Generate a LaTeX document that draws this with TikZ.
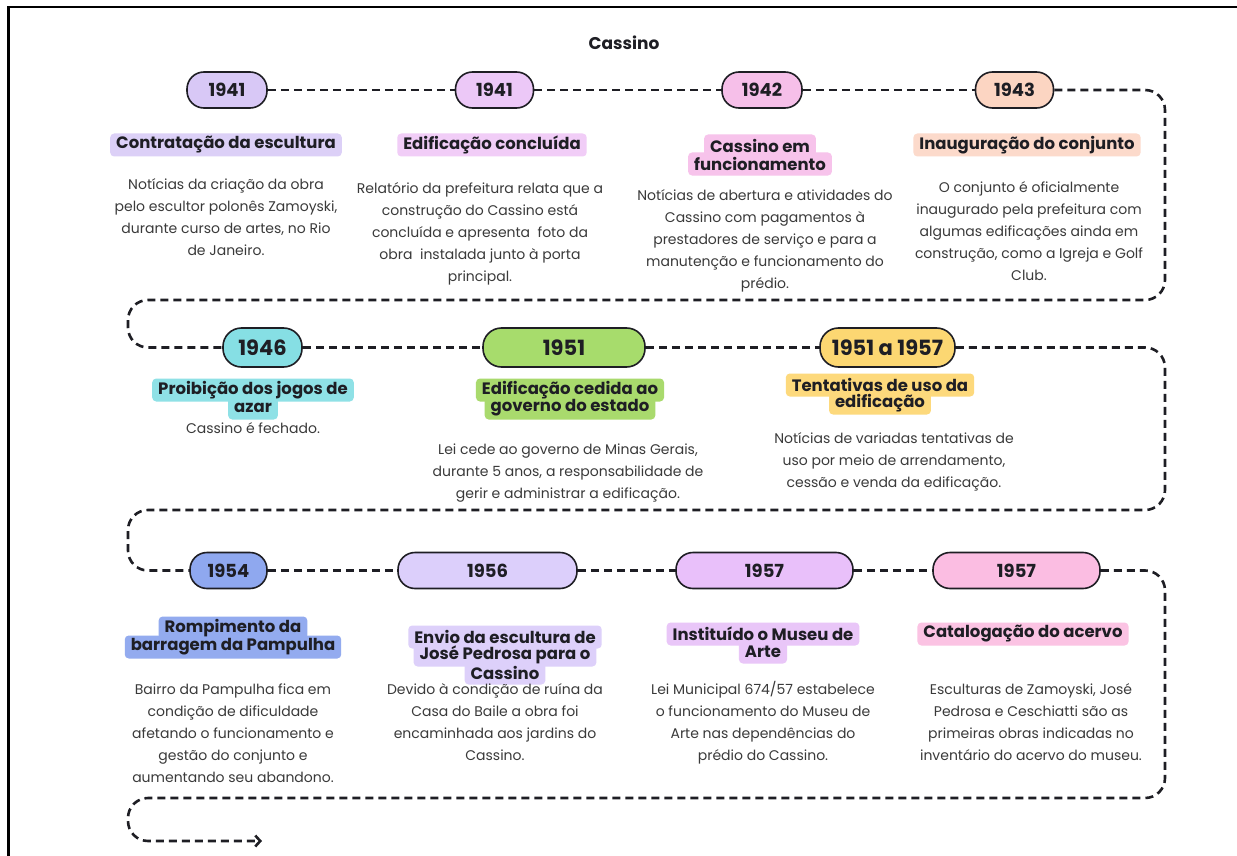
\documentclass[tikz,border=0pt]{standalone}
\usepackage{fontspec}
\setmainfont{Poppins}
\usetikzlibrary{arrows.meta}
\definecolor{pA}{HTML}{D8C8F6}\definecolor{hA}{HTML}{DCD0F7}
\definecolor{pB}{HTML}{ECC8F7}\definecolor{hB}{HTML}{F1CDF7}
\definecolor{pC}{HTML}{F6BFE9}\definecolor{hC}{HTML}{F7C3EB}
\definecolor{pD}{HTML}{FCD5C2}\definecolor{hD}{HTML}{FCDACB}
\definecolor{pE}{HTML}{86DFE4}\definecolor{hE}{HTML}{8FE1E6}
\definecolor{pF}{HTML}{A7DC6C}\definecolor{hF}{HTML}{A9DA6D}
\definecolor{pG}{HTML}{FCD772}\definecolor{hG}{HTML}{FDD97C}
\definecolor{pH}{HTML}{8FA8EF}\definecolor{hH}{HTML}{93ABEF}
\definecolor{pI}{HTML}{DCCFFB}\definecolor{hI}{HTML}{DDD0FA}
\definecolor{pJ}{HTML}{E9C0FA}\definecolor{hJ}{HTML}{E9C6F8}
\definecolor{pK}{HTML}{FBBDE2}\definecolor{hK}{HTML}{FBC3E3}
\definecolor{ink}{HTML}{1E1E24}
\definecolor{bodyc}{HTML}{3A3A3A}
% heading line: background first (invisible text), text drawn later
\newcommand\headbg[4]{\node[head, fill=#2, text opacity=0] (#1) at (#3) {#4};}
\newcommand\headtx[2]{\node[head] (#1t) at (#1.center) {#2};}
\begin{document}
\begin{tikzpicture}[x=1pt,y=-1pt,
  pill/.style={draw=ink, line width=1.6pt, rounded corners=17pt, minimum height=36pt,
    inner sep=0pt, font=\bfseries\fontsize{18}{20}\selectfont, text=ink},
  pillbig/.style={pill, minimum height=39pt, rounded corners=18.5pt,
    font=\bfseries\fontsize{21}{24}\selectfont},
  head/.style={rounded corners=4pt, inner xsep=6pt, inner ysep=0pt, minimum height=23pt,
    font=\bfseries\fontsize{16.5}{18}\selectfont, text=ink},
  body/.style={align=center, font=\fontsize{14}{22}\selectfont, text=bodyc,
    inner sep=0pt, anchor=north, yshift=-9.5pt},
  tl/.style={line width=2.6pt, dash pattern=on 8pt off 5pt, draw=ink, rounded corners=20pt},
]
\useasboundingbox (0,0) rectangle (1237,856);
\fill[white] (0,0) rectangle (1237,856);
\draw[line width=2.5pt] (8.5,856) -- (8.5,7) -- (1237,7);

\node[font=\bfseries\fontsize{17}{20}\selectfont, text=ink] (title) at (624,43) {Cassino};

% ---------- pills
\node[pill, fill=pA, minimum width=80pt] (p1) at (227,90) {1941};
\node[pill, fill=pB, minimum width=78pt] (p2) at (494.5,90) {1941};
\node[pill, fill=pC, minimum width=80pt] (p3) at (762,90) {1942};
\node[pill, fill=pD, minimum width=78pt] (p4) at (1014.5,90) {1943};

\node[pillbig, fill=pE, minimum width=79pt] (p5) at (262.5,347.5) {1946};
\node[pillbig, fill=pF, minimum width=162pt] (p6) at (564,347.5) {1951};
\node[pillbig, fill=pG, minimum width=135pt] (p7) at (887.5,347.5) {1951 a 1957};

\node[pill, fill=pH, minimum width=77pt] (p8) at (228.5,570.5) {1954};
\node[pill, fill=pI, minimum width=179pt] (p9) at (487.5,570.5) {1956};
\node[pill, fill=pJ, minimum width=177pt] (p10) at (764.5,570.5) {1957};
\node[pill, fill=pK, minimum width=167pt] (p11) at (1016.5,570.5) {1957};

\coordinate (endpt) at (262,841);

% ---------- timeline
\draw[tl] (p1) -- (p2);
\draw[tl] (p2) -- (p3);
\draw[tl] (p3) -- (p4);
\draw[tl] (p4.east) -- (1165,90) -- (1165,300) -- (128,300) -- (128,347.5) -- (p5.west);
\draw[tl] (p5) -- (p6);
\draw[tl] (p6) -- (p7);
\draw[tl] (p7.east) -- (1165,347.5) -- (1165,510) -- (128,510) -- (128,570.5) -- (p8.west);
\draw[tl] (p8) -- (p9);
\draw[tl] (p9) -- (p10);
\draw[tl] (p10) -- (p11);
\draw[tl, -{Straight Barb[length=5pt,width=11pt]}] (p11.east) -- (1165,570.5) -- (1165,798) -- (128,798) -- (128,841) -- (endpt);

% ---------- heading backgrounds
\headbg{h1}{hA}{226,145}{Contratação da escultura}
\headbg{h2}{hB}{492,145}{Edificação concluída}
\headbg{h3a}{hC}{760,146}{Cassino em}
\headbg{h3b}{hC}{760,164}{funcionamento}
\headbg{h4}{hD}{1027,145}{Inauguração do conjunto}
\headbg{h5a}{hE}{253,390}{Proibição dos jogos de}
\headbg{h5b}{hE}{253,408}{azar}
\headbg{h6a}{hF}{570,390}{Edificação cedida ao}
\headbg{h6b}{hF}{570,408}{governo do estado}
\headbg{h7a}{hG}{880,385}{Tentativas de uso da}
\headbg{h7b}{hG}{880,403}{edificação}
\headbg{h8a}{hH}{233,628}{Rompimento da}
\headbg{h8b}{hH}{233,647}{barragem da Pampulha}
\headbg{h9a}{hI}{505,637}{Envio da escultura de}
\headbg{h9b}{hI}{505,655}{José Pedrosa para o}
\headbg{h9c}{hI}{505,673}{Cassino}
\headbg{h10a}{hJ}{763,634}{Instituído o Museu de}
\headbg{h10b}{hJ}{763,652}{Arte}
\headbg{h11}{hK}{1023,634}{Catalogação do acervo}

% ---------- heading texts
\headtx{h1}{Contratação da escultura}
\headtx{h2}{Edificação concluída}
\headtx{h3a}{Cassino em}
\headtx{h3b}{funcionamento}
\headtx{h4}{Inauguração do conjunto}
\headtx{h5a}{Proibição dos jogos de}
\headtx{h5b}{azar}
\headtx{h6a}{Edificação cedida ao}
\headtx{h6b}{governo do estado}
\headtx{h7a}{Tentativas de uso da}
\headtx{h7b}{edificação}
\headtx{h8a}{Rompimento da}
\headtx{h8b}{barragem da Pampulha}
\headtx{h9a}{Envio da escultura de}
\headtx{h9b}{José Pedrosa para o}
\headtx{h9c}{Cassino}
\headtx{h10a}{Instituído o Museu de}
\headtx{h10b}{Arte}
\headtx{h11}{Catalogação do acervo}

% ---------- body texts
\node[body] (b1) at (226,164) {\strut Notícias da criação da obra\\pelo escultor polonês Zamoyski,\\durante curso de artes, no Rio\\de Janeiro.};
\node[body] (b2) at (480,168) {\strut Relatório da prefeitura relata que a\\construção do Cassino está\\concluída e apresenta\ \ foto da\\obra\ \ instalada junto à porta\\principal.};
\node[body] (b3) at (765,175) {\strut Notícias de abertura e atividades do\\Cassino com pagamentos à\\prestadores de serviço e para a\\manutenção e funcionamento do\\prédio.};
\node[body] (b4) at (1029,167) {\strut O conjunto é oficialmente\\inaugurado pela prefeitura com\\algumas edificações ainda em\\construção, como a Igreja e Golf\\Club.};

\node[body] (b5) at (253,408) {\strut Cassino é fechado.};
\node[body] (b6) at (568,429) {\strut Lei cede ao governo de Minas Gerais,\\durante 5 anos, a responsabilidade de\\gerir e administrar a edificação.};
\node[body] (b7) at (894,418) {\strut Notícias de variadas tentativas de\\uso por meio de arrendamento,\\cessão e venda da edificação.};

\node[body] (b8) at (233,669) {\strut Bairro da Pampulha fica em\\condição de dificuldade\\afetando o funcionamento e\\gestão do conjunto e\\aumentando seu abandono.};
\node[body] (b9) at (495,669) {\strut Devido à condição de ruína da\\Casa do Baile a obra foi\\encaminhada aos jardins do\\Cassino.};
\node[body] (b10) at (763,669) {\strut Lei Municipal 674/57 estabelece\\o funcionamento do Museu de\\Arte nas dependências do\\prédio do Cassino.};
\node[body] (b11) at (1031,669) {\strut Esculturas de Zamoyski, José\\Pedrosa e Ceschiatti são as\\primeiras obras indicadas no\\inventário do acervo do museu.};
\end{tikzpicture}
\end{document}
